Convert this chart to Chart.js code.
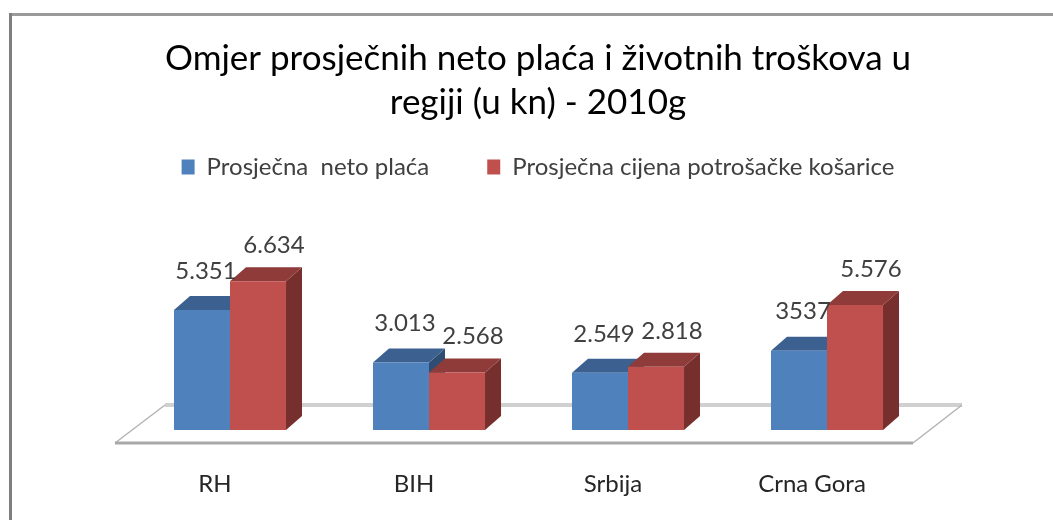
<!DOCTYPE html>
<html><head><meta charset="utf-8">
<script src="https://cdn.jsdelivr.net/npm/chart.js@4.4.1/dist/chart.umd.min.js"></script>
<style>html,body{margin:0;padding:0;background:#fff}#wrap{width:1053px;height:520px}</style>
</head><body><div id="wrap"><canvas id="c" width="1053" height="520"></canvas></div>
<script>
const categories = ['RH', 'BIH', 'Srbija', 'Crna Gora'];
const seriesNames = ['Prosječna  neto plaća', 'Prosječna cijena potrošačke košarice'];
const netoPlaca = [5351, 3013, 2549, 3537];
const kosarica = [6634, 2568, 2818, 5576];
const netoPlacaLabels = ['5.351', '3.013', '2.549', '3537'];
const kosaricaLabels = ['6.634', '2.568', '2.818', '5.576'];
const titleLines = ['Omjer prosječnih neto plaća i životnih troškova u', 'regiji (u kn) - 2010g'];
const valueLabels = [netoPlacaLabels, kosaricaLabels];

const FONT = 'Lato, "Open Sans", sans-serif';
const frontColors = ['#4f81bd', '#c0504d'];
const faceColors = [{top: '#3c6191', side: '#2f4d73'}, {top: '#8e3b39', side: '#772f2d'}];
const labelOffsets = [{dx: 4, dy: -39}, {dx: 16, dy: -36}];
const DEPTH_X = 16, DEPTH_Y = 14;

const frame = {
  id: 'frame',
  beforeDraw(chart) {
    const ctx = chart.ctx;
    ctx.save();
    ctx.fillStyle = '#ffffff';
    ctx.fillRect(0, 0, chart.width, chart.height);
    ctx.fillStyle = '#9a9a9a';
    ctx.fillRect(9, 13, chart.width - 9, 3);
    ctx.fillStyle = '#7f7f7f';
    ctx.fillRect(9, 13, 3, chart.height - 13);
    ctx.restore();
  }
};

const bar3d = {
  id: 'bar3d',
  beforeDatasetsDraw(chart) {
    const ctx = chart.ctx;
    const a = chart.chartArea;
    ctx.save();
    // floor
    const fl = a.left - 15.5, fr = a.right - 13.5, fy = a.bottom + 13;
    const bl = a.left + 34.5, br = a.right + 35.5, by = a.bottom - 25;
    ctx.fillStyle = '#ffffff';
    ctx.beginPath(); ctx.moveTo(fl, fy); ctx.lineTo(bl, by); ctx.lineTo(br, by); ctx.lineTo(fr, fy); ctx.closePath(); ctx.fill();
    ctx.strokeStyle = '#d0d0d0'; ctx.lineWidth = 4;
    ctx.beginPath(); ctx.moveTo(bl, by); ctx.lineTo(br, by); ctx.stroke();
    ctx.strokeStyle = '#b4b4b4'; ctx.lineWidth = 1.5;
    ctx.beginPath(); ctx.moveTo(fl, fy); ctx.lineTo(bl, by); ctx.moveTo(fr, fy); ctx.lineTo(br, by); ctx.stroke();
    ctx.strokeStyle = '#a8a8a8'; ctx.lineWidth = 3;
    ctx.beginPath(); ctx.moveTo(fl, fy); ctx.lineTo(fr, fy); ctx.stroke();
    // 3D faces
    const n = chart.data.labels.length;
    for (let i = 0; i < n; i++) {
      chart.data.datasets.forEach((ds, di) => {
        const el = chart.getDatasetMeta(di).data[i];
        if (!el) return;
        const x1 = el.x - el.width / 2, x2 = el.x + el.width / 2, top = el.y, base = el.base;
        ctx.fillStyle = faceColors[di].side;
        ctx.beginPath(); ctx.moveTo(x2, top); ctx.lineTo(x2 + DEPTH_X, top - DEPTH_Y); ctx.lineTo(x2 + DEPTH_X, base - DEPTH_Y); ctx.lineTo(x2, base); ctx.closePath(); ctx.fill();
        ctx.fillStyle = faceColors[di].top;
        ctx.beginPath(); ctx.moveTo(x1, top); ctx.lineTo(x1 + DEPTH_X, top - DEPTH_Y); ctx.lineTo(x2 + DEPTH_X, top - DEPTH_Y); ctx.lineTo(x2, top); ctx.closePath(); ctx.fill();
      });
    }
    ctx.restore();
  },
  afterDatasetsDraw(chart) {
    const ctx = chart.ctx;
    ctx.save();
    ctx.font = '24px ' + FONT;
    ctx.fillStyle = '#404040';
    ctx.textAlign = 'center';
    ctx.textBaseline = 'middle';
    chart.data.datasets.forEach((ds, di) => {
      chart.getDatasetMeta(di).data.forEach((el, i) => {
        ctx.fillText(valueLabels[di][i], el.x + labelOffsets[di].dx, el.y + labelOffsets[di].dy);
      });
    });
    ctx.restore();
  }
};

new Chart(document.getElementById('c'), {
  type: 'bar',
  data: {
    labels: categories,
    datasets: [
      {label: seriesNames[0], data: netoPlaca, backgroundColor: frontColors[0], borderWidth: 0, yAxisID: 'y'},
      {label: seriesNames[1], data: kosarica, backgroundColor: frontColors[1], borderWidth: 0, yAxisID: 'y'}
    ]
  },
  options: {
    responsive: false,
    animation: false,
    devicePixelRatio: 1,
    categoryPercentage: 0.563,
    barPercentage: 1,
    layout: {padding: {left: 43, right: 20, top: 0, bottom: 21}},
    plugins: {
      title: {
        display: true,
        text: titleLines,
        color: '#000000',
        font: {family: FONT, size: 35, weight: 'normal', lineHeight: 1.257},
        padding: {top: 37, bottom: -28}
      },
      legend: {
        display: true,
        labels: {
          boxWidth: 13, boxHeight: 15, padding: 58,
          color: '#404040',
          font: {family: FONT, size: 24}
        }
      },
      tooltip: {enabled: false}
    },
    scales: {
      x: {
        grid: {display: false, drawTicks: false},
        border: {display: false},
        ticks: {color: '#262626', font: {family: FONT, size: 24}, padding: 40, labelOffset: -15},
        afterFit(s) { s.height = 69; }
      },
      y: {
        position: 'right',
        min: 0, max: 10750,
        grid: {display: false, drawTicks: false},
        border: {display: false},
        ticks: {display: false},
        afterFit(s) { s.width = 106.5; }
      },
      yLeft: {
        position: 'left',
        min: 0, max: 10750,
        grid: {display: false, drawTicks: false},
        border: {display: false},
        ticks: {display: false},
        afterFit(s) { s.width = 87.5; }
      }
    }
  },
  plugins: [frame, bar3d]
});
</script>
</body></html>
